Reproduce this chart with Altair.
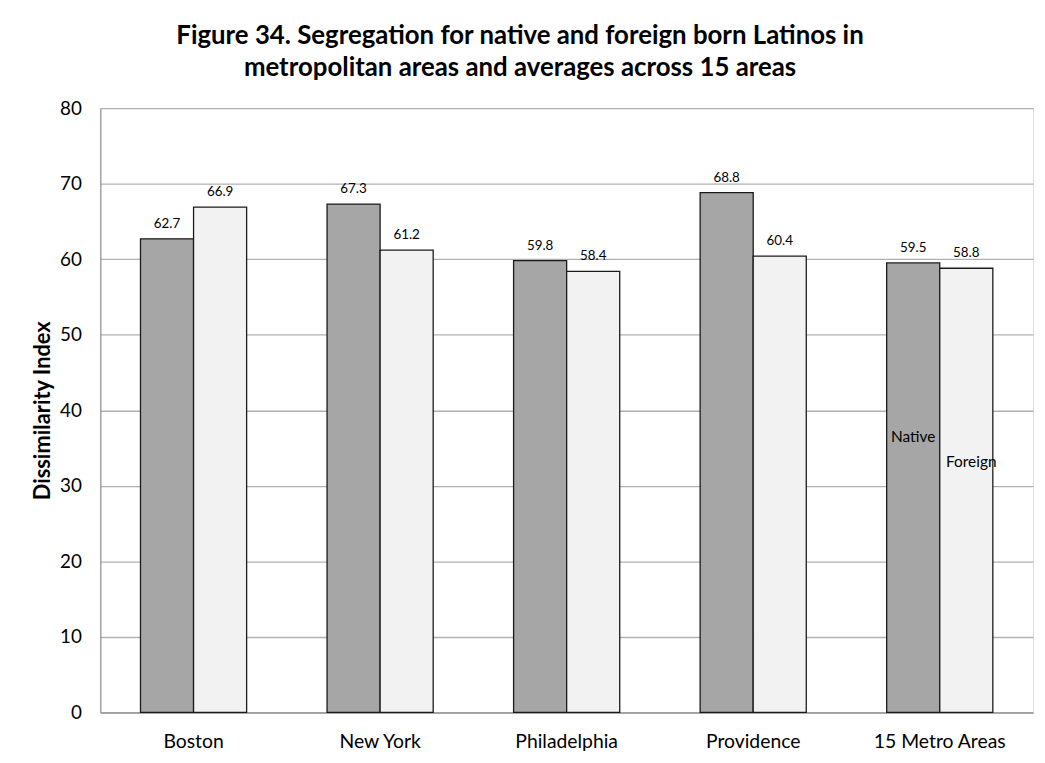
import altair as alt
import pandas as pd

areas = ["Boston", "New York", "Philadelphia", "Providence", "15 Metro Areas"]
native = [62.7, 67.3, 59.8, 68.8, 59.5]
foreign = [66.9, 61.2, 58.4, 60.4, 58.8]
series = ["Native", "Foreign"]

# in-bar series name labels (last group)
name_area = ["15 Metro Areas", "15 Metro Areas"]
name_series = ["Native", "Foreign"]
name_y = [36.4, 33.1]
name_dx = [0, 5]

rows = []
for a, n, f in zip(areas, native, foreign):
    rows.append({"area": a, "series": "Native", "value": n, "label": f"{n:.1f}"})
    rows.append({"area": a, "series": "Foreign", "value": f, "label": f"{f:.1f}"})
df = pd.DataFrame(rows)
names = pd.DataFrame({"area": name_area, "series": name_series, "value": name_y})

FONT = "Lato"

x = alt.X(
    "area:N",
    sort=areas,
    title=None,
    scale=alt.Scale(paddingInner=0.431, paddingOuter=0.2155),
    axis=alt.Axis(
        labelAngle=0, labelFont=FONT, labelFontSize=19.5, labelColor="#000",
        labelPadding=20, ticks=False, domainColor="#9a9a9a", domainWidth=1.6,
    ),
)
xo = alt.XOffset("series:N", sort=series)
y = alt.Y(
    "value:Q",
    scale=alt.Scale(domain=[0, 80], nice=False),
    axis=alt.Axis(
        values=list(range(0, 81, 10)), title="Dissimilarity Index",
        titleFont=FONT, titleFontSize=22, titleFontWeight="bold", titleColor="#000",
        titlePadding=5, labelFont=FONT, labelFontSize=19, labelColor="#000",
        labelPadding=19, ticks=False, grid=True, gridColor="#b0b0b0",
        gridWidth=1.3, domainColor="#9a9a9a", domainWidth=1.3,
    ),
)

bars = alt.Chart(df).mark_bar(stroke="#1a1a1a", strokeWidth=1.3).encode(
    x=x, xOffset=xo, y=y,
    color=alt.Color("series:N", sort=series,
                    scale=alt.Scale(domain=series, range=["#a6a6a6", "#f2f2f2"]),
                    legend=None),
)
labels = alt.Chart(df).mark_text(dy=-15, font=FONT, fontSize=13.5, color="#000").encode(
    x=x, xOffset=xo, y="value:Q", text="label:N",
)
inner_n = alt.Chart(names.iloc[[0]]).mark_text(font=FONT, fontSize=15.5, color="#000").encode(
    x=x, xOffset=xo, y="value:Q", text="series:N",
)
inner_f = alt.Chart(names.iloc[[1]]).mark_text(font=FONT, fontSize=15.5, color="#000", dx=name_dx[1]).encode(
    x=x, xOffset=xo, y="value:Q", text="series:N",
)

chart = alt.layer(bars, labels, inner_n, inner_f).properties(
    width=940, height=609,
    title=alt.TitleParams(
        ["Figure 34. Segregation for native and foreign born Latinos in",
         "metropolitan areas and averages across 15 areas"],
        font=FONT, fontSize=26, fontWeight="bold", color="#000",
        lineHeight=33, anchor="middle", dx=-47, offset=18,
    ),
    autosize=alt.AutoSizeParams(type="none"),
    padding={"left": 93, "top": 98, "right": 4, "bottom": 40},
).configure_view(stroke=None).configure(background="white")

chart.save("out.html", embed_options={"renderer": "svg", "actions": False})
